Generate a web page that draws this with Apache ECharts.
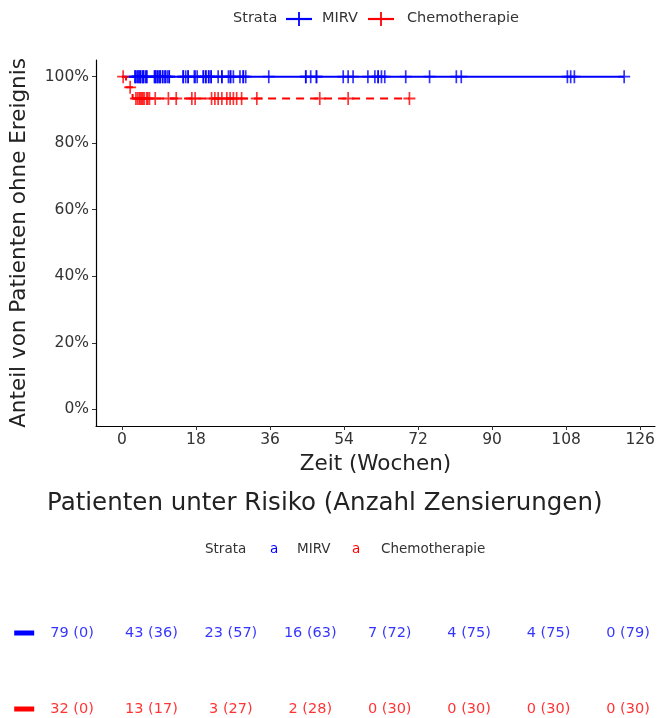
<!DOCTYPE html>
<html>
<head>
<meta charset="utf-8">
<script src="https://cdn.jsdelivr.net/npm/echarts@6/dist/echarts.min.js"></script>
<style>
  html, body { margin: 0; padding: 0; background: #fff; }
  #chart { width: 659px; height: 718px; }
</style>
</head>
<body>
<div id="chart"></div>
<script>
// Kaplan-Meier curves for two strata plus a number-at-risk table.
const FONT = 'DejaVu Sans';
const BLUE = '#0000FF';
const RED = '#FF0000';

const timeTicks = [0, 18, 36, 54, 72, 90, 108, 126];
const survivalTicks = [0, 0.2, 0.4, 0.6, 0.8, 1];
const strataNames = ['MIRV', 'Chemotherapie'];

// MIRV arm: 79 patients, no events, all censored
const mirvN = 79;
const mirvEventTimes = [];
const mirvCensorTimes = [
  3.2, 3.2, 3.5, 3.9, 3.9, 4.3, 4.5, 4.5, 5.0, 5.2, 5.2, 5.7, 5.9, 6.1,
  7.9, 8.1, 8.1, 8.6, 8.6, 9.0, 9.3, 9.3, 9.9, 9.9, 10.5, 10.5, 11.0, 11.5, 11.5,
  14.9, 14.9, 15.5, 16.1, 16.1,
  17.6, 17.8,
  18.3, 19.8, 19.8, 20.4, 20.4, 21.1, 21.1, 21.7, 21.7, 23.4, 24.3, 24.3,
  25.9, 26.4, 26.4, 27.1, 28.7, 29.5, 29.5, 30.1, 35.7,
  44.7, 44.7, 45.9, 47.3, 47.3, 53.8,
  55.0, 56.2, 59.8, 61.5, 62.3, 62.3, 63.1, 63.9, 69.0,
  74.8, 81.3, 82.5,
  108.3, 109.1, 110.0, 122.1
];

// Chemotherapie arm: 32 patients, two events
const chemoN = 32;
const chemoEventTimes = [1.0, 2.6];
const chemoCensorTimes = [
  0.3, 2.0, 3.4, 3.8, 4.2, 4.5, 4.8, 5.1, 5.4, 6.0, 6.3, 6.7, 8.1, 11.3, 13.2, 17.0, 17.8,
  21.8, 22.6, 23.4, 24.3, 25.5, 26.3, 27.1, 27.9, 29.1, 32.8,
  48.1,
  55.0, 69.9
];

// Number at risk (number censored) at each tick of the time axis
const mirvAtRisk = [79, 43, 23, 16, 7, 4, 4, 0];
const mirvCensored = [0, 36, 57, 63, 72, 75, 75, 79];
const chemoAtRisk = [32, 13, 3, 2, 0, 0, 0, 0];
const chemoCensored = [0, 17, 27, 28, 30, 30, 30, 30];

// Product-limit estimate: step path and censor-mark positions
function kaplanMeier(n, events, censors) {
  const times = Array.from(new Set(events.concat(censors))).sort((a, b) => a - b);
  let atRisk = n;
  let s = 1;
  const path = [[0, 1]];
  const marks = [];
  for (const t of times) {
    const d = events.filter(e => e === t).length;
    const c = censors.filter(e => e === t).length;
    if (d > 0) {
      s *= (atRisk - d) / atRisk;
      path.push([t, s]);
    }
    for (let i = 0; i < c; i++) marks.push([t, s]);
    atRisk -= d + c;
  }
  path.push([times[times.length - 1], s]);
  return { path, marks };
}

const mirvKM = kaplanMeier(mirvN, mirvEventTimes, mirvCensorTimes);
const chemoKM = kaplanMeier(chemoN, chemoEventTimes, chemoCensorTimes);

const PLUS = 'path://M4.3,0H5.7V4.3H10V5.7H5.7V10H4.3V5.7H0V4.3H4.3Z';

const X_MIN = -6.3, X_MAX = 129.6;

function censorSeries(name, marks, color) {
  return {
    name: name + ' censored',
    type: 'scatter',
    xAxisIndex: 0, yAxisIndex: 0,
    data: marks,
    symbol: PLUS,
    symbolSize: [12, 13],
    itemStyle: { color: color },
    silent: true,
    z: 4
  };
}

function curveSeries(name, path, color, dashed) {
  return {
    name: name,
    type: 'line',
    xAxisIndex: 0, yAxisIndex: 0,
    data: path,
    step: 'end',
    showSymbol: false,
    symbol: 'none',
    lineStyle: { color: color, width: 2, type: dashed ? [8, 6] : 'solid' },
    silent: true,
    z: 3
  };
}

function riskRow(atRisk, censored, rowValue, color) {
  return {
    type: 'scatter',
    xAxisIndex: 1, yAxisIndex: 1,
    data: timeTicks.map((t, i) => ({ value: [t, rowValue], label: { formatter: atRisk[i] + ' (' + censored[i] + ')' } })),
    symbolSize: 0,
    label: {
      show: true, position: 'inside', color: color,
      fontFamily: FONT, fontSize: 14.5
    },
    silent: true
  };
}

const axisTextColor = '#333333';
const legendFont = '14.5px "DejaVu Sans"';
const tableLegendFont = '13.5px "DejaVu Sans"';

const option = {
  backgroundColor: '#ffffff',
  animation: false,
  grid: [
    { left: 96, top: 60, width: 559, height: 366 },
    { left: 44.2, top: 633, width: 599.7, height: 76 }
  ],
  xAxis: [
    {
      type: 'value', gridIndex: 0, min: X_MIN, max: X_MAX,
      name: 'Zeit (Wochen)', nameLocation: 'middle', nameGap: 27,
      nameTextStyle: { fontFamily: FONT, fontSize: 21.5, color: '#222' },
      axisLine: { show: true, onZero: false, lineStyle: { color: '#000', width: 1.2 } },
      axisTick: { show: true, length: 4, customValues: timeTicks, lineStyle: { color: '#333' } },
      axisLabel: { customValues: timeTicks, margin: 6, fontFamily: FONT, fontSize: 15.5, color: axisTextColor },
      splitLine: { show: false }
    },
    {
      type: 'value', gridIndex: 1, min: X_MIN, max: X_MAX, show: false
    }
  ],
  yAxis: [
    {
      type: 'value', gridIndex: 0, min: -0.05, max: 1.05,
      name: 'Anteil von Patienten ohne Ereignis', nameLocation: 'middle', nameGap: 66,
      nameTextStyle: { fontFamily: FONT, fontSize: 21.5, color: '#222' },
      axisLine: { show: true, onZero: false, lineStyle: { color: '#000', width: 1.2 } },
      axisTick: { show: true, length: 4, customValues: survivalTicks, lineStyle: { color: '#333' } },
      axisLabel: {
        customValues: survivalTicks, margin: 7, fontFamily: FONT, fontSize: 15.5, color: axisTextColor,
        formatter: v => Math.round(v * 100) + '%'
      },
      splitLine: { show: false }
    },
    {
      type: 'value', gridIndex: 1, min: 0, max: 1,
      axisLine: { show: false }, axisTick: { show: false }, splitLine: { show: false },
      axisLabel: {
        customValues: [0, 1], margin: 10,
        formatter: v => (v === 1 ? '{m|}' : '{c|}'),
        rich: {
          m: { backgroundColor: BLUE, width: 20, height: 5 },
          c: { backgroundColor: RED, width: 20, height: 5 }
        }
      }
    }
  ],
  series: [
    curveSeries(strataNames[0], mirvKM.path, BLUE, false),
    censorSeries(strataNames[0], mirvKM.marks, BLUE),
    curveSeries(strataNames[1], chemoKM.path, RED, true),
    censorSeries(strataNames[1], chemoKM.marks, RED),
    riskRow(mirvAtRisk, mirvCensored, 1, BLUE),
    riskRow(chemoAtRisk, chemoCensored, 0, RED)
  ],
  graphic: [
    // legend of the curve panel
    { type: 'text', left: 233, top: 11, style: { text: 'Strata', font: legendFont, fill: '#333' } },
    { type: 'line', shape: { x1: 286, y1: 19, x2: 312, y2: 19 }, style: { stroke: BLUE, lineWidth: 2.2 } },
    { type: 'line', shape: { x1: 299, y1: 12, x2: 299, y2: 26 }, style: { stroke: BLUE, lineWidth: 1.8 } },
    { type: 'text', left: 322, top: 11, style: { text: strataNames[0], font: legendFont, fill: '#333' } },
    { type: 'line', shape: { x1: 368, y1: 19, x2: 394, y2: 19 }, style: { stroke: RED, lineWidth: 2.2 } },
    { type: 'line', shape: { x1: 381, y1: 12, x2: 381, y2: 26 }, style: { stroke: RED, lineWidth: 1.8 } },
    { type: 'text', left: 407, top: 11, style: { text: strataNames[1], font: legendFont, fill: '#333' } },
    // risk table heading
    { type: 'text', left: 47, top: 491, style: { text: 'Patienten unter Risiko (Anzahl Zensierungen)', font: '24.5px "DejaVu Sans"', fill: '#222' } },
    // legend of the risk table
    { type: 'text', left: 205, top: 542, style: { text: 'Strata', font: tableLegendFont, fill: '#333' } },
    { type: 'text', left: 270, top: 542, style: { text: 'a', font: tableLegendFont, fill: BLUE } },
    { type: 'text', left: 297, top: 542, style: { text: strataNames[0], font: tableLegendFont, fill: '#333' } },
    { type: 'text', left: 352, top: 542, style: { text: 'a', font: tableLegendFont, fill: RED } },
    { type: 'text', left: 381, top: 542, style: { text: strataNames[1], font: tableLegendFont, fill: '#333' } }
  ]
};

const chart = echarts.init(document.getElementById('chart'), null, { renderer: 'canvas' });
chart.setOption(option);
</script>
</body>
</html>
